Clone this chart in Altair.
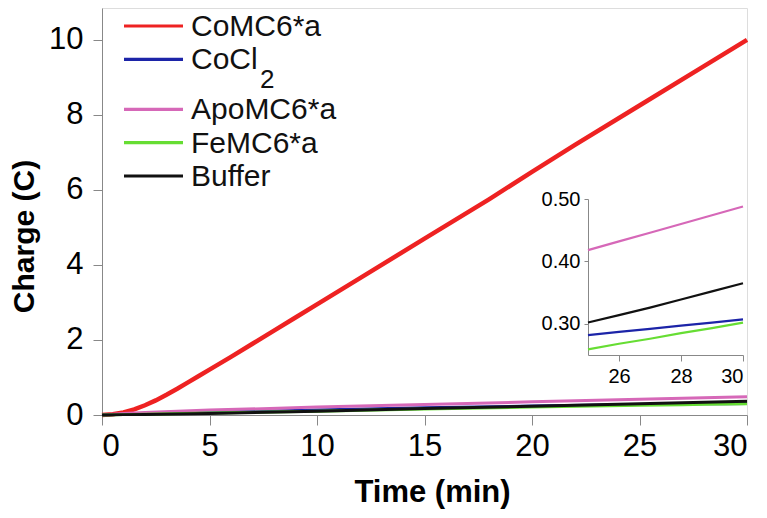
import altair as alt
import pandas as pd

# ---- data ----
series_names = ["CoMC6*a", "CoCl2", "ApoMC6*a", "FeMC6*a", "Buffer"]
series_colors = ["#ee2222", "#1c24a8", "#d668b8", "#66dd33", "#111111"]
legend_main = ["CoMC6*a", "CoCl", "ApoMC6*a", "FeMC6*a", "Buffer"]
legend_sub = ["", "2", "", "", ""]

t_red = [0, 0.5, 1, 1.5, 2, 2.5, 3, 3.5, 4, 4.5, 5, 6, 7, 8, 9, 10, 12, 15, 18, 20, 22, 25, 28, 30]
q_red = [0, 0.02, 0.07, 0.15, 0.26, 0.39, 0.54, 0.70, 0.87, 1.04, 1.21, 1.55, 1.90, 2.25,
         2.60, 2.95, 3.65, 4.70, 5.75, 6.48, 7.20, 8.25, 9.30, 10.0]

t_low = [0, 1, 2, 5, 10, 15, 20, 25, 26, 27, 28, 29, 30]
q_cocl2 = [0, 0.02, 0.035, 0.07, 0.13, 0.19, 0.24, 0.282, 0.287, 0.292, 0.297, 0.302, 0.307]
q_apo = [0, 0.04, 0.07, 0.13, 0.21, 0.28, 0.35, 0.418, 0.432, 0.446, 0.460, 0.474, 0.488]
q_fe = [0, 0.01, 0.02, 0.05, 0.10, 0.16, 0.21, 0.259, 0.268, 0.276, 0.285, 0.293, 0.302]
q_buf = [0, 0.01, 0.015, 0.04, 0.10, 0.17, 0.235, 0.302, 0.314, 0.326, 0.339, 0.352, 0.365]

rows = []
for t, q in zip(t_red, q_red):
    rows.append({"t": t, "q": q, "series": series_names[0]})
for name, vals in zip(series_names[1:], [q_cocl2, q_apo, q_fe, q_buf]):
    for t, q in zip(t_low, vals):
        rows.append({"t": t, "q": q, "series": name})
df = pd.DataFrame(rows)

legend_df = pd.DataFrame({"series": series_names, "label": legend_main, "sub": legend_sub})

FONT = "Liberation Sans"
AX = "#9a9a9a"
cscale = alt.Scale(domain=series_names, range=series_colors)

main = alt.Chart(df).mark_line(clip=False).encode(
    x=alt.X("t:Q", scale=alt.Scale(domain=[0, 30], nice=False),
            axis=alt.Axis(values=[0, 5, 10, 15, 20, 25, 30], title="Time (min)",
                          titleFontSize=31, titleFontWeight="bold", titleX=330, titleY=62,
                          titleBaseline="top", labelFontSize=31, tickSize=10,
                          labelPadding=6, grid=False)),
    y=alt.Y("q:Q", scale=alt.Scale(domain=[0, 10.85], nice=False),
            axis=alt.Axis(values=[0, 2, 4, 6, 8, 10], title="Charge (C)",
                          titleFontSize=30, titleFontWeight="bold", titleAngle=-90,
                          titleX=-93, titleY=228, titleBaseline="top", titleAlign="center",
                          labelFontSize=31, tickSize=9, labelPadding=10, grid=False)),
    color=alt.Color("series:N", scale=cscale, legend=None),
    strokeWidth=alt.condition(alt.datum.series == series_names[0], alt.value(4.5), alt.value(3)),
    order=alt.Order("t:Q"),
)

inset_df = df[(df["t"] >= 25) & (df["series"] != series_names[0])]
inset = alt.Chart(inset_df).mark_line(strokeWidth=2.2).encode(
    x=alt.X("t:Q", scale=alt.Scale(domain=[25, 30], range=[486, 641], nice=False),
            axis=alt.Axis(orient="bottom", offset=-60, values=[26, 28, 30], title=None,
                          labelFontSize=20, tickSize=6, labelPadding=5, grid=False)),
    y=alt.Y("q:Q", scale=alt.Scale(domain=[0.25, 0.50], range=[347, 191], nice=False),
            axis=alt.Axis(orient="left", offset=-486, values=[0.3, 0.4, 0.5], format=".2f",
                          title=None, labelFontSize=20, tickSize=4, labelPadding=4, grid=False)),
    color=alt.Color("series:N", scale=cscale, legend=None),
    order=alt.Order("t:Q"),
)

# manual legend: row slot (extra gap after the subscripted entry)
slot_expr = "indexof(['" + "','".join(series_names) + "'], datum.series)"
leg_base = alt.Chart(legend_df).transform_calculate(
    idx=slot_expr
).transform_calculate(
    slot="datum.idx + (datum.idx >= 2 ? 0.5 : 0)"
)
leg_y = alt.Y("slot:Q", scale=alt.Scale(domain=[0, 4.5], range=[18, 168], nice=False), axis=None)

leg_lines = leg_base.mark_rule(strokeWidth=3.2).encode(
    x=alt.value(22), x2=alt.value(81), y=leg_y,
    color=alt.Color("series:N", scale=cscale, legend=None),
)
leg_text = leg_base.mark_text(align="left", baseline="middle", font=FONT, fontSize=30,
                              color="#111", dy=1).encode(
    x=alt.value(89), y=leg_y, text="label:N",
)
leg_sub = leg_base.mark_text(align="left", baseline="middle", font=FONT, fontSize=26,
                             color="#111", dy=21).encode(
    x=alt.value(158), y=leg_y, text="sub:N",
)

chart = alt.layer(main, inset, leg_lines, leg_text, leg_sub).resolve_scale(
    x="independent", y="independent"
).properties(
    width=645, height=407,
    autosize=alt.AutoSizeParams(type="none"),
    padding={"left": 94, "top": 0, "right": 12, "bottom": 95},
).configure_axis(
    labelFont=FONT, titleFont=FONT, labelColor="#111", titleColor="#111",
    domainColor=AX, tickColor=AX, domainWidth=1.5, tickWidth=1.5,
).configure_view(stroke=None).configure(background="white")

chart.save("out.html", embed_options={"renderer": "svg", "actions": False})
